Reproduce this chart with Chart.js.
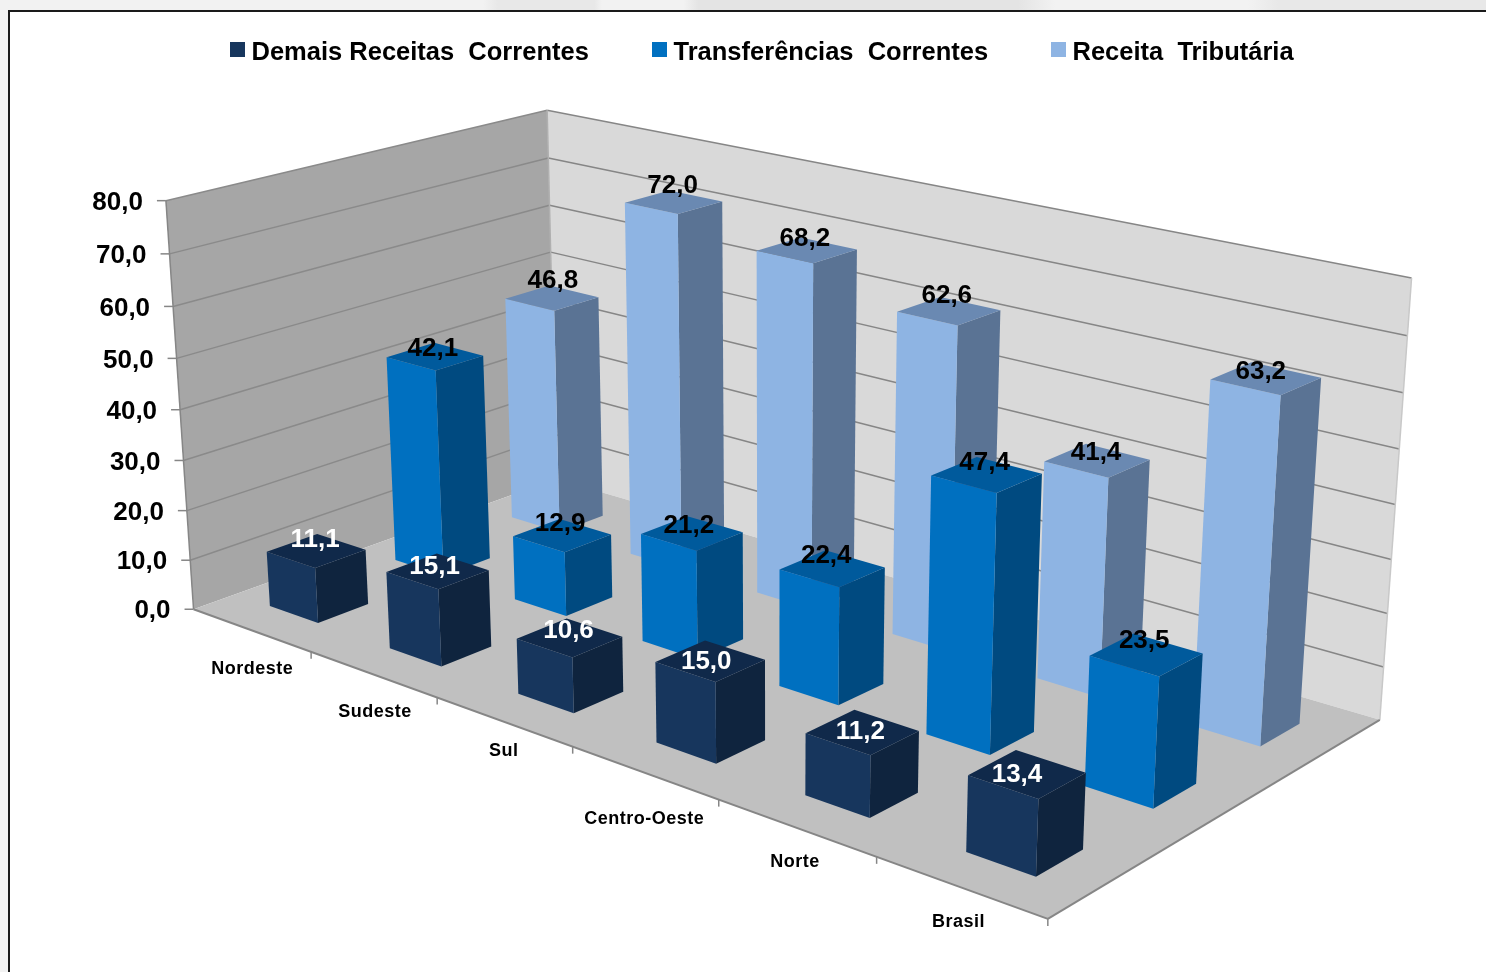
<!DOCTYPE html>
<html>
<head>
<meta charset="utf-8">
<title>Receitas correntes por região</title>
<style>
  html, body { margin: 0; padding: 0; background: #f0f0f0; overflow: hidden; }
  canvas { display: block; }
</style>
<script src="https://cdn.jsdelivr.net/npm/chart.js@4"></script>
</head>
<body>
<canvas id="chart" width="1486" height="972"></canvas>
<script>
// --- DATA ---
const categories = ['Nordeste', 'Sudeste', 'Sul', 'Centro-Oeste', 'Norte', 'Brasil'];
const demaisReceitas = [11.1, 15.1, 10.6, 15.0, 11.2, 13.4];
const transferencias = [42.1, 12.9, 21.2, 22.4, 47.4, 23.5];
const receitaTributaria = [46.8, 72.0, 68.2, 62.6, 41.4, 63.2];
const seriesNames = ['Demais Receitas  Correntes', 'Transferências  Correntes', 'Receita  Tributária'];

// --- COLOURS (front, side, top of each column) ---
const frontColors = ['#17365d', '#0070c0', '#8eb4e3'];
const sideColors = ['#0f243e', '#004a80', '#5a7394'];
const topColors = ['#10294a', '#005a9c', '#6a89b2'];
const labelColors = ['#ffffff', '#000000', '#000000'];

// category label nudges, in px
const categoryNudgeX = [1, 2, 0, 0, -1, -2];
const categoryNudgeY = [-1, -2, -11, 6, -6, -5];

// value label nudges per series, in px
const valueNudgeX = [[-1, -3, -1, -4, -2, -10], [-2, -2, -3, -6, -2, -2], [1, -1, -2, -2, -1, -5]];
const valueNudgeY = [[3, 10, 7, 15, 14, 15], [6, 2, 7, 1, 2, 0], [-3, -2, 3, -1, 6, 7]];

// --- 3D BOX ---
// Corners of the plot box on the page: [category, depth, height] -> [x, y]
const boxAnchors = [
    [[0, 0, 0], [197, 609]],
    [[0, 0, 1], [163, 200]],
    [[0, 1, 0], [552, 480]],
    [[0, 1, 1], [551, 110]],
    [[1, 0, 0], [1047, 920]],
    [[1, 1, 0], [1382, 718]],
    [[1, 1, 1], [1410, 279]]
];
const barDepth = 0.39; // depth of a column, in depth scale units

// Least squares fit of a 3x4 camera matrix to the box corners
function fitCamera(anchors) {
    const rows = [];
    anchors.forEach(([[X, Y, Z], [x, y]]) => {
        rows.push([X, Y, Z, 1, 0, 0, 0, 0, -x * X, -x * Y, -x * Z, x]);
        rows.push([0, 0, 0, 0, X, Y, Z, 1, -y * X, -y * Y, -y * Z, y]);
    });
    const n = 11;
    const m = [];
    for (let i = 0; i < n; i++) {
        m.push([]);
        for (let j = 0; j <= n; j++) {
            m[i].push(rows.reduce((sum, r) => sum + r[i] * r[j], 0));
        }
    }
    for (let c = 0; c < n; c++) {
        let pivot = c;
        for (let r = c + 1; r < n; r++) {
            if (Math.abs(m[r][c]) > Math.abs(m[pivot][c])) pivot = r;
        }
        [m[c], m[pivot]] = [m[pivot], m[c]];
        for (let r = 0; r < n; r++) {
            if (r === c) continue;
            const f = m[r][c] / m[c][c];
            for (let k = c; k <= n; k++) m[r][k] -= f * m[c][k];
        }
    }
    return m.map((row, i) => row[n] / row[i]);
}
const cam = fitCamera(boxAnchors);

function project(u, v, w) {
    const d = cam[8] * u + cam[9] * v + cam[10] * w + 1;
    return [
        (cam[0] * u + cam[1] * v + cam[2] * w + cam[3]) / d,
        (cam[4] * u + cam[5] * v + cam[6] * w + cam[7]) / d
    ];
}

function fillPoly(ctx, points, color) {
    ctx.beginPath();
    points.forEach((p, i) => i ? ctx.lineTo(p[0], p[1]) : ctx.moveTo(p[0], p[1]));
    ctx.closePath();
    ctx.fillStyle = color;
    ctx.fill();
}

function strokeLine(ctx, a, b, color, width) {
    ctx.beginPath();
    ctx.moveTo(a[0], a[1]);
    ctx.lineTo(b[0], b[1]);
    ctx.strokeStyle = color;
    ctx.lineWidth = width;
    ctx.stroke();
}

// Scale helpers: turn scale pixels into 0..1 box coordinates
const xToU = (chart, px) => (px - chart.scales.x.left) / chart.scales.x.width;
const depthToV = (chart, value) => {
    const s = chart.scales.depth;
    return (s.getPixelForValue(value) - s.left) / s.width;
};
const yToW = (chart, px) => (chart.scales.y.bottom - px) / chart.scales.y.height;

// --- PLUGIN: page, walls, axes and the projected columns ---
const box3d = {
    id: 'box3d',
    beforeDraw(chart) {
        const ctx = chart.ctx;
        ctx.save();
        // faint banding behind the frame
        const band = ctx.createLinearGradient(0, 0, chart.width, 0);
        [[0, '#f2f2f2'], [0.325, '#f2f2f2'], [0.335, '#e8e8e8'], [0.4, '#e8e8e8'], [0.405, '#f2f2f2'],
         [0.46, '#f2f2f2'], [0.47, '#e4e4e4'], [0.685, '#e4e4e4'], [0.71, '#f2f2f2'], [0.84, '#f2f2f2'],
         [0.86, '#e8e8e8'], [1, '#e8e8e8']].forEach(([at, c]) => band.addColorStop(at, c));
        ctx.fillStyle = band;
        ctx.fillRect(0, 0, chart.width, chart.height);
        ctx.fillStyle = '#f2f2f2';
        ctx.fillRect(0, 12, 10, chart.height - 12);
        ctx.fillStyle = '#ffffff';
        ctx.fillRect(10, 12, chart.width - 10, chart.height - 12);
        ctx.strokeStyle = '#1a1a1a';
        ctx.lineWidth = 2;
        ctx.beginPath();
        ctx.moveTo(9, chart.height);
        ctx.lineTo(9, 11);
        ctx.lineTo(chart.width, 11);
        ctx.stroke();
        ctx.restore();
    },
    beforeDatasetsDraw(chart) {
        const ctx = chart.ctx;
        ctx.save();
        drawWalls(chart, ctx);
        drawLegend(chart, ctx);
        drawColumns(chart, ctx);
        drawValueLabels(chart, ctx);
        ctx.restore();
        return false; // the flat bars are replaced by the columns above
    }
};

function drawWalls(chart, ctx) {
    fillPoly(ctx, [project(0, 0, 0), project(0, 1, 0), project(0, 1, 1), project(0, 0, 1)], '#a6a6a6');
    fillPoly(ctx, [project(0, 1, 0), project(1, 1, 0), project(1, 1, 1), project(0, 1, 1)], '#d9d9d9');
    fillPoly(ctx, [project(0, 0, 0), project(1, 0, 0), project(1, 1, 0), project(0, 1, 0)], '#c0c0c0');

    // gridlines and value axis
    const y = chart.scales.y;
    y.ticks.forEach(tick => {
        const w = yToW(chart, y.getPixelForValue(tick.value));
        const front = project(0, 0, w);
        const corner = project(0, 1, w);
        const right = project(1, 1, w);
        if (tick.value > 0) {
            strokeLine(ctx, front, corner, '#8a8a8a', 1.5);
            strokeLine(ctx, corner, right, '#868686', 1.5);
        }
        strokeLine(ctx, [front[0] - 9, front[1]], front, '#868686', 1.5);
        ctx.font = 'bold 26px "Liberation Sans"';
        ctx.fillStyle = '#000000';
        ctx.textAlign = 'right';
        ctx.textBaseline = 'middle';
        ctx.fillText(tick.label, front[0] - 23, front[1] + 2);
    });
    strokeLine(ctx, project(0, 0, 0), project(0, 0, 1), '#868686', 1.5);
    strokeLine(ctx, project(0, 1, 0), project(0, 1, 1), '#b0b0b0', 1.5);
    strokeLine(ctx, project(1, 1, 0), project(1, 1, 1), '#c8c8c8', 1.5);

    // floor edges, category ticks and labels
    strokeLine(ctx, project(0, 0, 0), project(1, 0, 0), '#868686', 2);
    strokeLine(ctx, project(1, 0, 0), project(1, 1, 0), '#868686', 2);
    const x = chart.scales.x;
    const slot = x.width / categories.length;
    categories.forEach((name, i) => {
        const edge = project(xToU(chart, x.getPixelForTick(i) + slot / 2), 0, 0);
        strokeLine(ctx, edge, [edge[0], edge[1] + 7], '#868686', 1.5);
        const mid = project(xToU(chart, x.getPixelForTick(i)), 0, 0);
        ctx.font = 'bold 18px "Liberation Sans"';
        ctx.letterSpacing = '0.5px';
        ctx.fillStyle = '#000000';
        ctx.textAlign = 'center';
        ctx.textBaseline = 'middle';
        ctx.fillText(name, mid[0] + categoryNudgeX[i], mid[1] + 40 + categoryNudgeY[i]);
        ctx.letterSpacing = '0px';
    });
}

function drawLegend(chart, ctx) {
    const swatchX = [230, 652, 1051];
    ctx.font = 'bold 25.5px "Liberation Sans"';
    ctx.textAlign = 'left';
    ctx.textBaseline = 'middle';
    chart.data.datasets.forEach((ds, i) => {
        ctx.fillStyle = ds.backgroundColor;
        ctx.fillRect(swatchX[i], 42, 15, 15);
        ctx.fillStyle = '#000000';
        ctx.fillText(ds.label, swatchX[i] + 21.5, 53);
    });
}

function columnBox(chart, d, bar) {
    const u0 = xToU(chart, bar.x - bar.width / 2);
    const u1 = xToU(chart, bar.x + bar.width / 2);
    const v0 = depthToV(chart, d + 0.5 - barDepth / 2);
    const v1 = depthToV(chart, d + 0.5 + barDepth / 2);
    return { u0, u1, v0, v1, w: yToW(chart, bar.y) };
}

function drawColumns(chart, ctx) {
    // back series first, left to right, so nearer columns cover farther ones
    for (let d = chart.data.datasets.length - 1; d >= 0; d--) {
        chart.getDatasetMeta(d).data.forEach(bar => {
            const { u0, u1, v0, v1, w } = columnBox(chart, d, bar);
            fillPoly(ctx, [project(u1, v0, 0), project(u1, v1, 0), project(u1, v1, w), project(u1, v0, w)], sideColors[d]);
            fillPoly(ctx, [project(u0, v0, 0), project(u1, v0, 0), project(u1, v0, w), project(u0, v0, w)], frontColors[d]);
            fillPoly(ctx, [project(u0, v0, w), project(u1, v0, w), project(u1, v1, w), project(u0, v1, w)], topColors[d]);
        });
    }
}

function drawValueLabels(chart, ctx) {
    ctx.font = 'bold 26px "Liberation Sans"';
    ctx.textAlign = 'center';
    ctx.textBaseline = 'middle';
    chart.data.datasets.forEach((ds, d) => {
        chart.getDatasetMeta(d).data.forEach((bar, i) => {
            const { u0, u1, v0, v1, w } = columnBox(chart, d, bar);
            const p = project((u0 + u1) / 2, (v0 + v1) / 2, w);
            ctx.fillStyle = labelColors[d];
            ctx.fillText(ds.data[i].toFixed(1).replace('.', ','), p[0] + valueNudgeX[d][i], p[1] - 14 + valueNudgeY[d][i]);
        });
    });
}

// --- CHART ---
new Chart(document.getElementById('chart'), {
    type: 'bar',
    data: {
        labels: categories,
        datasets: [demaisReceitas, transferencias, receitaTributaria].map((values, i) => ({
            label: seriesNames[i],
            data: values,
            backgroundColor: frontColors[i]
        }))
    },
    options: {
        responsive: false,
        animation: false,
        layout: { padding: 0 },
        grouped: false,
        barPercentage: 0.41,
        categoryPercentage: 1,
        plugins: { legend: { display: false }, tooltip: { enabled: false } },
        scales: {
            x: { display: false, ticks: { autoSkip: false } },
            y: {
                display: false,
                min: 0,
                max: 80,
                ticks: { stepSize: 10, callback: value => value.toFixed(1).replace('.', ',') }
            },
            depth: { axis: 'x', position: 'bottom', type: 'linear', display: false, min: 0.2, max: 2.8 }
        }
    },
    plugins: [box3d]
});
</script>
</body>
</html>
